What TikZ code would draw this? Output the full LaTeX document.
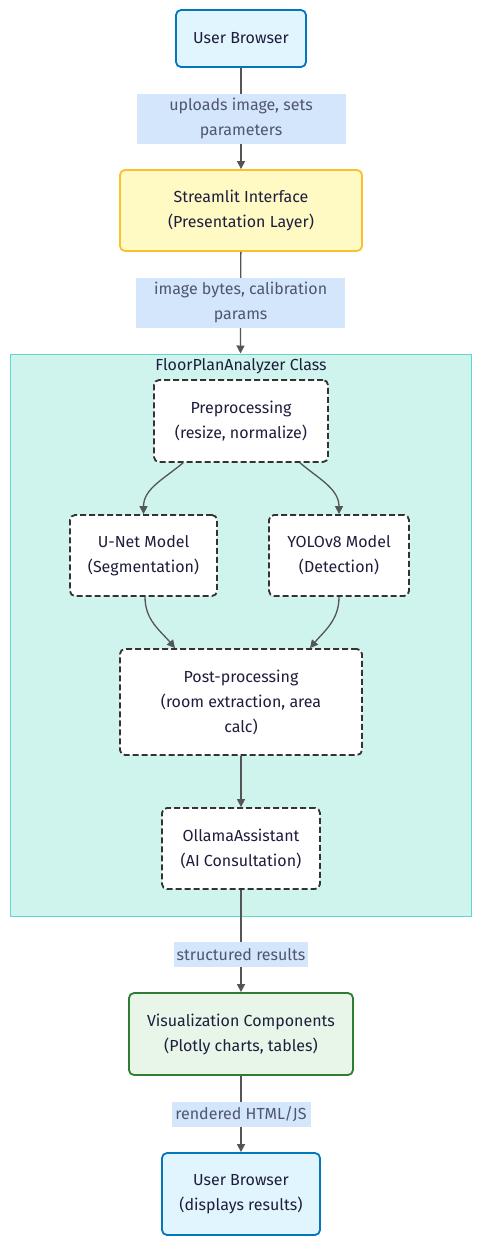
\documentclass[tikz,border=0pt]{standalone}
\usepackage{fontspec}
\setmainfont{Fira Sans}
\usetikzlibrary{positioning,arrows.meta,shapes.misc}
\definecolor{ink}{RGB}{30,30,60}
\definecolor{userblue}{RGB}{2,119,189}
\definecolor{userfill}{RGB}{225,245,254}
\definecolor{uiborder}{RGB}{251,192,45}
\definecolor{uifill}{RGB}{255,249,196}
\definecolor{vizborder}{RGB}{46,125,50}
\definecolor{vizfill}{RGB}{232,245,233}
\definecolor{clfill}{RGB}{207,244,238}
\definecolor{clborder}{RGB}{95,215,204}
\definecolor{partgray}{RGB}{51,51,51}
\definecolor{flowgray}{RGB}{85,85,85}
\definecolor{lblfill}{RGB}{212,230,252}
\definecolor{lblink}{RGB}{80,86,108}

\begin{document}
\begin{tikzpicture}[
  x=1pt, y=1pt,
  every node/.style={font=\fontsize{16}{25}\selectfont, text=ink, align=center, inner sep=0pt},
  box/.style={rectangle, rounded corners=5pt, line width=1.8pt},
  userbox/.style={box, draw=userblue, fill=userfill},
  uibox/.style={box, draw=uiborder, fill=uifill},
  vizbox/.style={box, draw=vizborder, fill=vizfill},
  part/.style={box, draw=partgray, fill=white, dash pattern=on 6pt off 3pt},
  cluster/.style={rectangle, draw=clborder, fill=clfill, line width=1pt},
  flow/.style={-{Triangle[width=8pt,length=8pt]}, draw=flowgray, line width=1.3pt},
  flowlbl/.style={fill=lblfill, text=lblink}
]
  \useasboundingbox (0,0) rectangle (480,-1245);

  % subgraph
  \node[cluster, minimum width=461pt, minimum height=562pt] (cl) at (240.5,-635) {};
  \node (cltitle) at (241,-366) {FloorPlanAnalyzer Class};

  % outer nodes
  \node[userbox, minimum width=130pt, minimum height=57pt] (ub) at (241,-38.5) {User Browser};
  \node[uibox, minimum width=242pt, minimum height=81pt] (sl) at (241,-210.5)
    {Streamlit Interface\\(Presentation Layer)};
  \node[vizbox, minimum width=224pt, minimum height=82pt] (viz) at (241,-1034)
    {Visualization Components\\(Plotly charts, tables)};
  \node[userbox, minimum width=158pt, minimum height=82pt] (ubout) at (241,-1194)
    {User Browser\\(displays results)};

  % analyzer parts
  \node[part, minimum width=174pt, minimum height=82pt] (pre) at (241,-421)
    {Preprocessing\\(resize, normalize)};
  \node[part, minimum width=147pt, minimum height=81pt] (unet) at (143.5,-555.5)
    {U-Net Model\\(Segmentation)};
  \node[part, minimum width=140pt, minimum height=81pt] (yolo) at (339,-555.5)
    {YOLOv8 Model\\(Detection)};
  \node[part, minimum width=242pt, minimum height=106pt] (post) at (241,-702)
    {Post-processing\\(room extraction, area\\calc)};
  \node[part, minimum width=158pt, minimum height=81pt] (ola) at (241,-848.5)
    {OllamaAssistant\\(AI Consultation)};

  % connectors
  \draw[flow] (ub) -- (sl)
    node[flowlbl, midway, minimum width=209pt, minimum height=50pt] {uploads image, sets\\parameters};
  \draw[flow] (sl) -- (cl.north)
    node[flowlbl, midway, minimum width=209pt, minimum height=50pt] {image bytes, calibration\\params};
  \draw[flow] ([xshift=-58pt]pre.south) to[out=-140, in=90] (unet.north);
  \draw[flow] ([xshift=59pt]pre.south) to[out=-40, in=90] (yolo.north);
  \draw[flow] ([xshift=1.5pt]unet.south) to[out=-90, in=130] ([xshift=-66pt]post.north);
  \draw[flow] (yolo.south) to[out=-90, in=50] ([xshift=69pt]post.north);
  \draw[flow] (post) -- (ola);
  \draw[flow] (ola) -- (viz)
    node[flowlbl, pos=0.63, minimum width=134pt, minimum height=25pt] {structured results};
  \draw[flow] (viz) -- (ubout)
    node[flowlbl, midway, minimum width=139pt, minimum height=25pt] {rendered HTML/JS};
\end{tikzpicture}
\end{document}
